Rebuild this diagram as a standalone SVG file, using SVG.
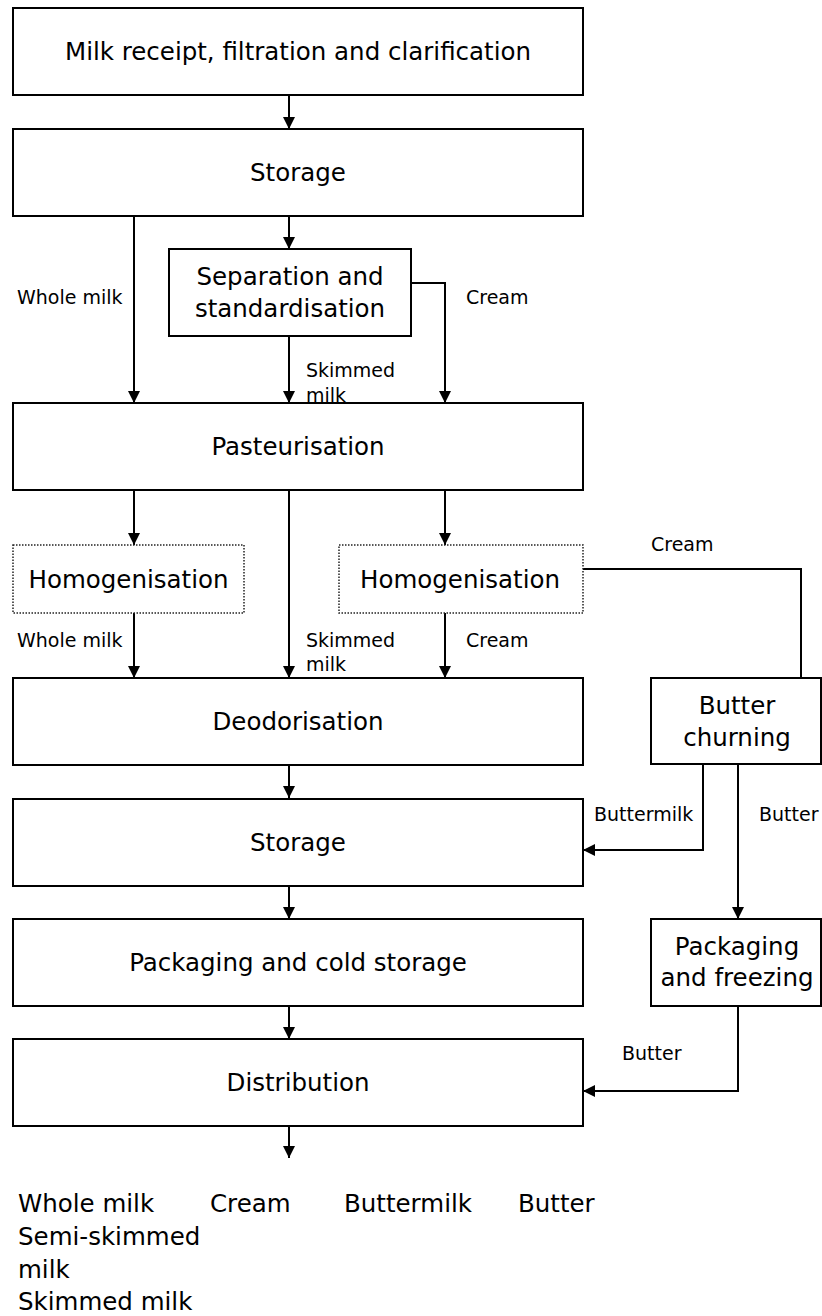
<svg xmlns="http://www.w3.org/2000/svg" width="822" height="1316" viewBox="0 0 822 1316">
<style>
.box{fill:#fff;stroke:#000;stroke-width:2}
.dot{fill:#fff;stroke:#222;stroke-width:1.5;stroke-dasharray:1.5 1.5}
.t{font-family:"DejaVu Sans",Verdana,sans-serif;font-size:24.5px;fill:#000;text-anchor:middle}
.l{font-family:"DejaVu Sans",Verdana,sans-serif;font-size:19px;fill:#000}
.b{font-family:"DejaVu Sans",Verdana,sans-serif;font-size:24.5px;fill:#000}
.c{fill:none;stroke:#000;stroke-width:2}
.a{marker-end:url(#ah)}
</style>
<defs>
<marker id="ah" markerUnits="userSpaceOnUse" markerWidth="12" markerHeight="12" refX="12" refY="6" orient="auto">
<path d="M0,0 L12,6 L0,12 Z" fill="#000"/>
</marker>
</defs>
<rect width="822" height="1316" fill="#fff"/>
<g id="connectors">
<line class="c a" x1="289" y1="95" x2="289" y2="129"/>
<line class="c a" x1="134" y1="216" x2="134" y2="403"/>
<line class="c a" x1="289" y1="216" x2="289" y2="249"/>
<line class="c a" x1="289" y1="336" x2="289" y2="403"/>
<polyline class="c a" points="411,283 445,283 445,403"/>
<line class="c a" x1="134" y1="490" x2="134" y2="545"/>
<line class="c a" x1="289" y1="490" x2="289" y2="678"/>
<line class="c a" x1="445" y1="490" x2="445" y2="545"/>
<line class="c a" x1="134" y1="613" x2="134" y2="678"/>
<line class="c a" x1="445" y1="613" x2="445" y2="678"/>
<polyline class="c" points="583,569 801,569 801,678"/>
<line class="c a" x1="289" y1="765" x2="289" y2="798"/>
<polyline class="c a" points="703,764 703,850 583,850"/>
<line class="c a" x1="738" y1="764" x2="738" y2="919"/>
<line class="c a" x1="289" y1="886" x2="289" y2="919"/>
<line class="c a" x1="289" y1="1006" x2="289" y2="1039"/>
<polyline class="c a" points="738,1006 738,1091 583,1091"/>
<line class="c a" x1="289" y1="1126" x2="289" y2="1158"/>
<text class="l" x="17" y="304">Whole milk</text>
<text class="l" x="306" y="377">Skimmed</text>
<text class="l" x="306" y="402">milk</text>
<text class="l" x="466" y="304">Cream</text>
<text class="l" x="651" y="551">Cream</text>
<text class="l" x="17" y="647">Whole milk</text>
<text class="l" x="306" y="647">Skimmed</text>
<text class="l" x="306" y="671">milk</text>
<text class="l" x="466" y="647">Cream</text>
<text class="l" x="594" y="821">Buttermilk</text>
<text class="l" x="759" y="821">Butter</text>
<text class="l" x="622" y="1060">Butter</text>
</g>
<g id="n1"><rect class="box" x="13" y="8" width="570" height="87"/><text class="t" x="298" y="60">Milk receipt, filtration and clarification</text></g>
<g id="n2"><rect class="box" x="13" y="129" width="570" height="87"/><text class="t" x="298" y="181">Storage</text></g>
<g id="n3"><rect class="box" x="169" y="249" width="242" height="87"/><text class="t" x="290" y="285">Separation and</text><text class="t" x="290" y="317">standardisation</text></g>
<g id="n4"><rect class="box" x="13" y="403" width="570" height="87"/><text class="t" x="298" y="455">Pasteurisation</text></g>
<g id="n5"><rect class="dot" x="13" y="545" width="231" height="68"/><text class="t" x="128.5" y="588">Homogenisation</text></g>
<g id="n6"><rect class="dot" x="339" y="545" width="244" height="68"/><text class="t" x="460" y="588">Homogenisation</text></g>
<g id="n7"><rect class="box" x="13" y="678" width="570" height="87"/><text class="t" x="298" y="730">Deodorisation</text></g>
<g id="n8"><rect class="box" x="651" y="678" width="170" height="86"/><text class="t" x="737" y="714">Butter</text><text class="t" x="737" y="746">churning</text></g>
<g id="n9"><rect class="box" x="13" y="799" width="570" height="87"/><text class="t" x="298" y="851">Storage</text></g>
<g id="n10"><rect class="box" x="13" y="919" width="570" height="87"/><text class="t" x="298" y="971">Packaging and cold storage</text></g>
<g id="n11"><rect class="box" x="651" y="919" width="170" height="87"/><text class="t" x="737" y="955">Packaging</text><text class="t" x="737" y="986">and freezing</text></g>
<g id="n12"><rect class="box" x="13" y="1039" width="570" height="87"/><text class="t" x="298" y="1091">Distribution</text></g>
<g id="products">
<text class="b" x="18" y="1212">Whole milk</text>
<text class="b" x="210" y="1212">Cream</text>
<text class="b" x="344" y="1212">Buttermilk</text>
<text class="b" x="518" y="1212">Butter</text>
<text class="b" x="18" y="1245">Semi-skimmed</text>
<text class="b" x="18" y="1278">milk</text>
<text class="b" x="18" y="1310">Skimmed milk</text>
</g>
</svg>
